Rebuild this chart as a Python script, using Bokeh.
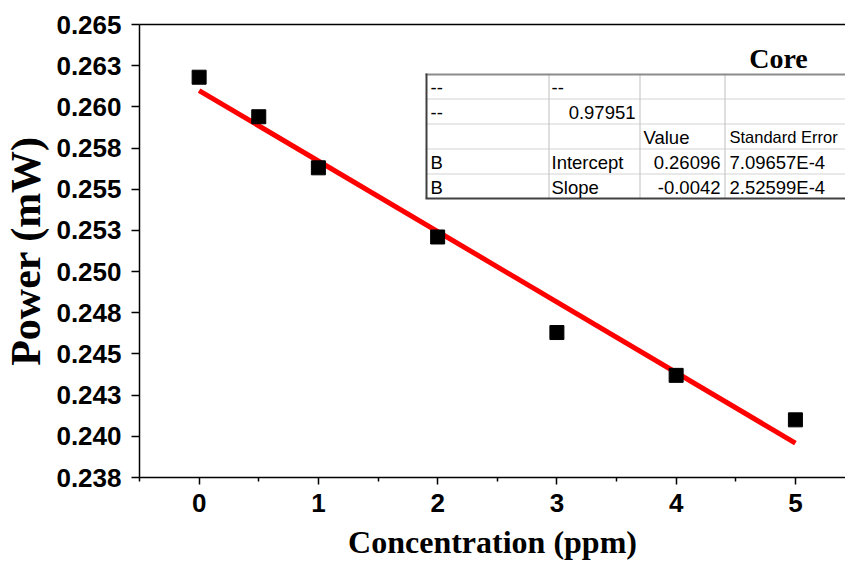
import numpy as np
from bokeh.plotting import figure
from bokeh.models import LinearAxis, FixedTicker, Range1d, Label, BoxAnnotation
from bokeh.embed import file_html
from bokeh.resources import INLINE

# ---- data ----
conc = [0, 0.5, 1, 2, 3, 4, 5]
power = [0.2618, 0.2594, 0.2563, 0.2521, 0.2463, 0.2437, 0.2410]

x_ticks = [0, 1, 2, 3, 4, 5]
x_minor_ticks = [-0.5, 0.5, 1.5, 2.5, 3.5, 4.5, 5.5]
y_ticks = [0.2375, 0.24, 0.2425, 0.245, 0.2475, 0.25, 0.2525, 0.255, 0.2575, 0.26, 0.2625, 0.265]
y_tick_labels = ["0.238", "0.240", "0.243", "0.245", "0.248", "0.250",
                 "0.253", "0.255", "0.258", "0.260", "0.263", "0.265"]

table_col1 = ["--", "--", "", "B", "B"]
table_col2 = ["--", "0.97951", "", "Intercept", "Slope"]
table_col3 = ["", "", "Value", "0.26096", "-0.0042"]
table_col4 = ["", "", "Standard Error", "7.09657E-4", "2.52599E-4"]

title_text = "Core"
x_label = "Concentration (ppm)"
y_label = "Power (mW)"

# ---- figure ----
FRAME_L, FRAME_B = 138, 479   # page px of frame left / bottom

p = figure(width=845, height=562, output_backend="svg", toolbar_location=None,
           x_range=Range1d(-0.5, 5.42), y_range=Range1d(0.2375, 0.265),
           min_border_left=138, min_border_top=24, min_border_bottom=83,
           min_border_right=0)
p.outline_line_color = None
p.grid.visible = False
p.background_fill_color = "white"
p.border_fill_color = "white"

xa = p.xaxis[0]
xa.ticker = FixedTicker(ticks=x_ticks, minor_ticks=x_minor_ticks)
xa.axis_label = x_label
xa.axis_label_text_font = "Liberation Serif"
xa.axis_label_text_font_style = "bold"
xa.axis_label_text_font_size = "32px"
xa.axis_label_text_color = "black"
xa.axis_label_standoff = 9
xa.major_label_text_font = "Liberation Sans"
xa.major_label_text_font_style = "bold"
xa.major_label_text_font_size = "26px"
xa.major_label_text_color = "black"
xa.major_label_standoff = 9
xa.major_tick_out = 7
xa.major_tick_in = 0
xa.minor_tick_out = 4
xa.minor_tick_in = 0
xa.axis_line_width = 1.5
xa.axis_line_color = "black"
xa.major_tick_line_width = 1.5
xa.major_tick_line_color = "black"
xa.minor_tick_line_width = 1.5
xa.minor_tick_line_color = "black"

ya = p.yaxis[0]
ya.ticker = FixedTicker(ticks=y_ticks, minor_ticks=[])
ya.major_label_overrides = {t: l for t, l in zip(y_ticks, y_tick_labels)}
ya.axis_label = y_label
ya.axis_label_text_font = "Liberation Serif"
ya.axis_label_text_font_style = "bold"
ya.axis_label_text_font_size = "42px"
ya.axis_label_text_color = "black"
ya.axis_label_standoff = 4
ya.major_label_text_font = "Liberation Sans"
ya.major_label_text_font_style = "bold"
ya.major_label_text_font_size = "26px"
ya.major_label_text_color = "black"
ya.major_label_standoff = 10
ya.major_tick_out = 8
ya.major_tick_in = 0
ya.axis_line_width = 1.5
ya.axis_line_color = "black"
ya.major_tick_line_width = 1.5
ya.major_tick_line_color = "black"

top = LinearAxis(ticker=FixedTicker(ticks=[]), major_label_text_font_size="0px",
                 major_tick_out=0, minor_tick_out=0, axis_line_width=1.5,
                 axis_line_color="black")
p.add_layout(top, "above")

# ---- data marks ----
coef = np.polyfit(conc, power, 1)
fit_x = [conc[0], conc[-1]]
fit_y = list(np.polyval(coef, fit_x))
p.line(fit_x, fit_y, line_color="#ff0000", line_width=5)
p.scatter(conc, power, marker="square", size=14, fill_color="black", line_color="black")

# ---- table annotation (screen units relative to frame) ----
def sx(px):
    return px - FRAME_L

def sy(py):
    return FRAME_B - py

def hline(x0, x1, y, color, w=1):
    p.add_layout(BoxAnnotation(left=sx(x0), right=sx(x1), top=sy(y), bottom=sy(y + w),
                               left_units="screen", right_units="screen",
                               top_units="screen", bottom_units="screen",
                               fill_color=color, fill_alpha=1, line_color=None))

def vline(x, y0, y1, color, w=1):
    p.add_layout(BoxAnnotation(left=sx(x), right=sx(x + w), top=sy(y0), bottom=sy(y1),
                               left_units="screen", right_units="screen",
                               top_units="screen", bottom_units="screen",
                               fill_color=color, fill_alpha=1, line_color=None))

t_left, t_right, t_top, t_bot = 424, 900, 75, 200
row_h = 25
col_x = [424, 547, 638, 723]
for i in range(1, 5):
    hline(t_left, t_right, t_top + i * row_h, "#d4d4d4")
for cx in col_x[1:]:
    vline(cx, t_top, t_bot, "#c0c0c0")
hline(t_left, t_right, t_top, "#8c8c8c", 2)
hline(t_left, t_right, t_bot - 1, "#404040", 2)
vline(t_left, t_top, t_bot, "#404040", 2)

def cell(text, px, row, align, size="18.5px"):
    if not text:
        return
    p.add_layout(Label(x=sx(px), y=sy(t_top + row * row_h + row_h / 2 + 1),
                       x_units="screen", y_units="screen", text=text,
                       text_font="Liberation Sans", text_font_size=size,
                       text_align=align, text_baseline="middle", text_color="black"))

for r in range(5):
    cell(table_col1[r], 429, r, "left")
    if table_col2[r] in ("0.97951",):
        cell(table_col2[r], 634, r, "right")
    else:
        cell(table_col2[r], 550, r, "left")
    if table_col3[r] == "Value":
        cell(table_col3[r], 642, r, "left")
    else:
        cell(table_col3[r], 719, r, "right")
    if table_col4[r] == "Standard Error":
        cell(table_col4[r], 728, r, "left", size="16.5px")
    else:
        cell(table_col4[r], 728, r, "left")

p.add_layout(Label(x=sx(777), y=sy(60), x_units="screen", y_units="screen",
                   text=title_text, text_font="Liberation Serif", text_font_style="bold",
                   text_font_size="28px", text_align="center", text_baseline="alphabetic",
                   text_color="black"))

open("out.html", "w").write(file_html(p, INLINE))
